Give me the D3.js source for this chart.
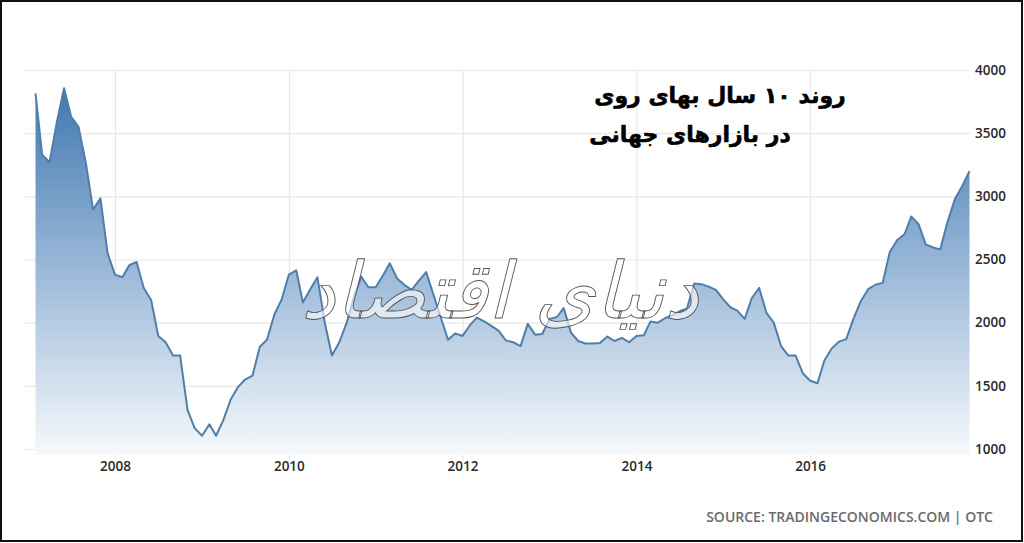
<!DOCTYPE html>
<html>
<head>
<meta charset="utf-8">
<script src="https://cdn.jsdelivr.net/npm/d3@7"></script>
<style>
html,body{margin:0;padding:0;background:#fff;}
svg{display:block;}
</style>
</head>
<body>
<svg id="chart" width="1024" height="543"></svg>
<script>
// ---- data ----
const firstMonth = "2007-02";   // monthly observations, Feb 2007 .. Nov 2017
const zincPrice = [
  3815,3330,3270,3580,3855,3630,3550,3260,2895,2985,2550,
  2380,2360,2455,2480,2275,2180,1895,1845,1740,1740,1310,1165,
  1105,1195,1105,1230,1390,1490,1550,1580,1810,1865,2065,2180,
  2380,2415,2160,2265,2360,2000,1740,1845,2000,2200,2365,2280,
  2280,2375,2470,2350,2300,2260,2330,2400,2220,2045,1865,1915,
  1895,1980,2040,2010,1975,1935,1860,1845,1815,1990,1905,1910,
  2030,2045,2115,1920,1855,1835,1835,1840,1890,1855,1880,1845,
  1895,1900,2010,2000,2035,2060,2090,2110,2310,2305,2285,2260,
  2185,2120,2095,2030,2195,2275,2080,2000,1815,1740,1740,1600,
  1540,1520,1700,1795,1850,1870,2030,2170,2265,2300,2315,2560,
  2655,2700,2840,2780,2620,2595,2580,2800,2980,3080,3200
];
const yTicks = [1000,1500,2000,2500,3000,3500,4000];
const xTickYears = [2008,2010,2012,2014,2016];
const titleLines = ["روند ۱۰ سال بهای روی", "در بازارهای جهانی"];
const watermark = "دنیای اقتصاد";
const sourceText = "SOURCE: TRADINGECONOMICS.COM | OTC";

// ---- build ----
const parseMonth = d3.timeParse("%Y-%m");
const start = parseMonth(firstMonth);
const data = zincPrice.map((v,i) => ({date: d3.timeMonth.offset(start, i), value: v}));

const svg = d3.select("#chart");
const W = 1024, H = 543;
const plotRight = 970, plotTop = 70, plotBottom = 449;

const x = d3.scaleTime()
  .domain(d3.extent(data, d => d.date))
  .range([35.5, 969.5]);
const y = d3.scaleLinear().domain([1000, 4000]).range([plotBottom, plotTop]);

// frame
svg.append("rect").attr("x",1).attr("y",1).attr("width",W-3).attr("height",H-3)
  .attr("fill","#fff").attr("stroke","#111").attr("stroke-width",2);

// gradient
const defs = svg.append("defs");
const grad = defs.append("linearGradient").attr("id","fillGrad")
  .attr("gradientUnits","userSpaceOnUse")
  .attr("x1",0).attr("y1",plotTop).attr("x2",0).attr("y2",plotBottom+6);
grad.append("stop").attr("offset","0%").attr("stop-color","#3a72ab");
grad.append("stop").attr("offset","45%").attr("stop-color","#8dafd3");
grad.append("stop").attr("offset","100%").attr("stop-color","#f7f9fc");

// horizontal gridlines
const gy = svg.append("g").attr("transform",`translate(25,0)`)
  .call(d3.axisLeft(y).tickValues(yTicks).tickSize(-(plotRight-25)).tickFormat(""));
gy.select(".domain").remove();
gy.selectAll("line").attr("stroke","#e8e8e8").attr("stroke-width",1.2);

// vertical gridlines
const xTickDates = xTickYears.map(yr => new Date(yr,0,1));
const gx = svg.append("g").attr("transform",`translate(0,460)`)
  .call(d3.axisBottom(x).tickValues(xTickDates).tickSize(-(460-plotTop)).tickFormat(""));
gx.select(".domain").remove();
gx.selectAll("line").attr("stroke","#e8e8e8").attr("stroke-width",1.2);

// area + line
const area = d3.area().x(d => x(d.date)).y0(plotBottom+6).y1(d => y(d.value));
const line = d3.line().x(d => x(d.date)).y(d => y(d.value));
svg.append("path").datum(data).attr("d",area).attr("fill","url(#fillGrad)");
svg.append("path").datum(data).attr("d",line).attr("fill","none")
  .attr("stroke","#4f7eab").attr("stroke-width",2).attr("stroke-linejoin","round");

// watermark
svg.append("text").text(watermark)
  .attr("x",500).attr("y",318)
  .attr("text-anchor","middle")
  .attr("direction","rtl")
  .attr("font-family","DejaVu Sans")
  .attr("font-size",78)
  .attr("font-style","italic")
  .attr("fill","#ffffff").attr("fill-opacity",0.6)
  .attr("stroke","#555").attr("stroke-width",0.9);

// y axis labels
const ay = svg.append("g").attr("transform",`translate(972,0)`)
  .call(d3.axisRight(y).tickValues(yTicks).tickSize(0).tickPadding(3).tickFormat(d3.format("d")));
ay.select(".domain").remove();
ay.selectAll("text").attr("font-family","Open Sans").attr("font-size",13.5)
  .attr("font-weight",600).attr("fill","#2a2a2a");

// x axis labels
const ax = svg.append("g").attr("transform",`translate(0,458)`)
  .call(d3.axisBottom(x).tickValues(xTickDates).tickSize(0).tickPadding(3).tickFormat(d3.timeFormat("%Y")));
ax.select(".domain").remove();
ax.selectAll("text").attr("font-family","Open Sans").attr("font-size",13.5)
  .attr("font-weight",600).attr("fill","#2a2a2a");

// title
const titleCenters = [[720,103],[690,142]];
titleLines.forEach((t,i) => {
  svg.append("text").text(t)
    .attr("x",titleCenters[i][0]).attr("y",titleCenters[i][1])
    .attr("text-anchor","middle").attr("direction","rtl")
    .attr("font-family","DejaVu Sans").attr("font-weight","bold")
    .attr("font-size",22).attr("fill","#000")
    .attr("stroke","#000").attr("stroke-width",0.6);
});

// source
svg.append("text").text(sourceText)
  .attr("x",993).attr("y",522).attr("text-anchor","end")
  .attr("font-family","Open Sans").attr("font-size",14).attr("font-weight",600)
  .attr("fill","#6a6a6a");
</script>
</body>
</html>
